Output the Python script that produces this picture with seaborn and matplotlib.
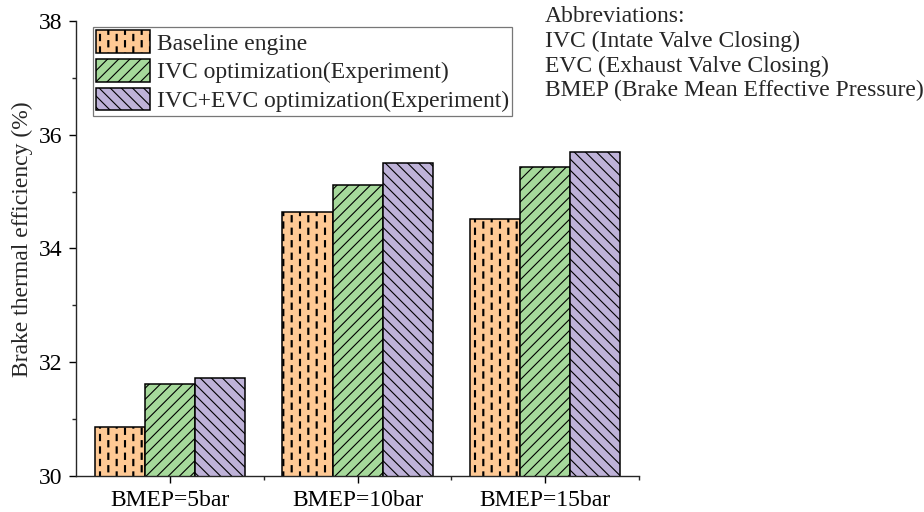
import warnings

import numpy as np
import pandas as pd
import matplotlib
matplotlib.use("Agg")
import matplotlib.pyplot as plt
from matplotlib import hatch as mhatch
from matplotlib.patches import Patch
from matplotlib.path import Path
from matplotlib.ticker import FixedLocator, MultipleLocator
import seaborn as sns

warnings.filterwarnings("ignore")

# ---- data -------------------------------------------------------------
conditions = ["BMEP=5bar", "BMEP=10bar", "BMEP=15bar"]
series_names = [
    "Baseline engine",
    "IVC optimization(Experiment)",
    "IVC+EVC optimization(Experiment)",
]
baseline = [30.86, 34.64, 34.52]
ivc_opt = [31.62, 35.11, 35.44]
ivc_evc_opt = [31.73, 35.50, 35.70]
y_ticks = [30, 32, 34, 36, 38]
notes = [
    "Abbreviations:",
    "IVC (Intate Valve Closing)",
    "EVC (Exhaust Valve Closing)",
    "BMEP (Brake Mean Effective Pressure)",
]

bar_colors = ["#FEC995", "#A6D99B", "#BEB2D8"]
bar_hatches = ["!", "///", "\\\\\\"]

FS = 17


# ---- custom hatch: staggered short vertical dashes ('!') ---------------
class DashHatch(mhatch.HatchPatternBase):
    ncols = 12
    nrows = 8

    def __init__(self, hatch, density):
        self.on = "!" in hatch
        self.num_vertices = (self.ncols + 1) * (self.nrows + 1) * 5 if self.on else 0

    def set_vertices_and_codes(self, vertices, codes):
        hw, hh = 0.005, 0.031
        rect = np.array([[-hw, -hh], [hw, -hh], [hw, hh], [-hw, hh], [-hw, -hh]])
        rect_codes = [Path.MOVETO, Path.LINETO, Path.LINETO, Path.LINETO, Path.CLOSEPOLY]
        k = 0
        for i in range(self.ncols + 1):
            x = i / self.ncols
            shift = 0.5 / self.nrows if i % 2 else 0.0
            for j in range(self.nrows + 1):
                y = j / self.nrows + shift
                vertices[k:k + 5] = rect + [x, y]
                codes[k:k + 5] = rect_codes
                k += 5


mhatch._hatch_types.append(DashHatch)

# ---- style ------------------------------------------------------------
sns.set_theme(style="ticks")
plt.rcParams["font.family"] = ["Liberation Serif", "DejaVu Serif"]
plt.rcParams["hatch.linewidth"] = 0.8
plt.rcParams["axes.linewidth"] = 1.0

df = pd.DataFrame(
    {
        "condition": np.tile(conditions, len(series_names)),
        "series": np.repeat(series_names, len(conditions)),
        "efficiency": np.concatenate([baseline, ivc_opt, ivc_evc_opt]),
    }
)

fig = plt.figure(figsize=(9.24, 5.12), dpi=100)
ax = fig.add_axes([0.0823, 0.0703, 0.6093, 0.8887])

sns.barplot(
    data=df,
    x="condition",
    y="efficiency",
    hue="series",
    order=conditions,
    hue_order=series_names,
    palette=bar_colors,
    saturation=1,
    width=0.8,
    gap=0,
    errorbar=None,
    edgecolor="black",
    linewidth=1.1,
    legend=False,
    ax=ax,
)

for container, h in zip(ax.containers, bar_hatches):
    for bar in container:
        bar.set_hatch(h)

ax.set_ylim(y_ticks[0], y_ticks[-1])
ax.set_xlim(-0.5, len(conditions) - 0.5)
ax.set_yticks(y_ticks)
ax.yaxis.set_minor_locator(MultipleLocator(1))
ax.xaxis.set_minor_locator(FixedLocator([0.5, 1.5, 2.5]))

sns.despine(ax=ax)
ax.tick_params(axis="both", which="major", direction="out", length=5, width=1.0,
               labelsize=FS, colors="black", pad=5)
ax.tick_params(axis="both", which="minor", direction="out", length=3, width=1.0)

ax.set_xlabel("")
ax.set_ylabel("Brake thermal efficiency (%)", fontsize=FS)
ax.yaxis.set_label_coords(-0.076, 0.52)

handles = [
    Patch(facecolor=c, edgecolor="black", hatch=h, linewidth=1.1, label=n)
    for c, h, n in zip(bar_colors, bar_hatches, series_names)
]
leg = ax.legend(
    handles=handles,
    loc="upper left",
    bbox_to_anchor=(0.030, 0.987),
    borderaxespad=0,
    fontsize=FS,
    frameon=True,
    fancybox=False,
    edgecolor="#555555",
    handlelength=2.25,
    handleheight=1.07,
    handletextpad=0.3,
    labelspacing=0.2,
    borderpad=0.15,
)
leg.get_frame().set_linewidth(0.9)

fig.text(0.590, 0.988, "\n".join(notes), ha="left", va="top", fontsize=FS,
         linespacing=1.22)

fig.savefig("out.png", dpi=100)
